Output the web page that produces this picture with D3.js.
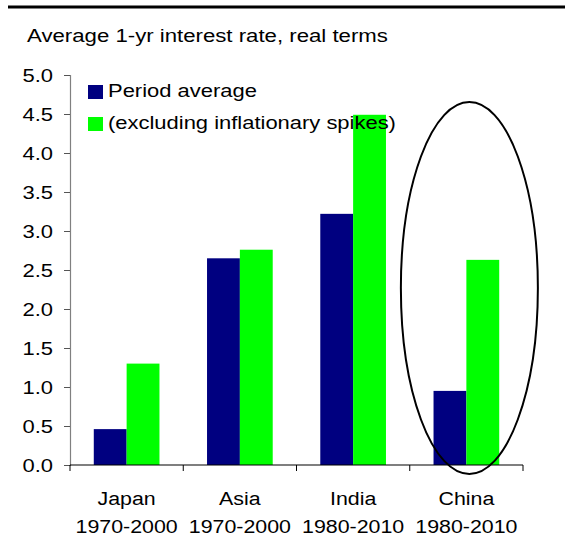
<!DOCTYPE html>
<html><head><meta charset="utf-8">
<script src="https://cdn.jsdelivr.net/npm/d3@7"></script>
<style>body{margin:0;background:#fff}svg{display:block}text{font-family:"Liberation Sans",Arial,sans-serif;fill:#000}</style>
</head><body><svg id="c" width="565" height="555"></svg>
<script>
const categories = ["Japan", "Asia", "India", "China"];
const periods = ["1970-2000", "1970-2000", "1980-2010", "1980-2010"];
const seriesNames = ["Period average", "(excluding inflationary spikes)"];
const periodAverage = [0.46, 2.65, 3.22, 0.95];
const exclSpikes = [1.30, 2.76, 4.49, 2.63];
const yTicks = [0, 0.5, 1, 1.5, 2, 2.5, 3, 3.5, 4, 4.5, 5];
const colors = ["#000080", "#00ff00"];
const title = "Average 1-yr interest rate, real terms";

(function () {
const svg = d3.select("#c");
const mLeft = 70, mRight = 523, mTop = 75, mBottom = 465;
const SX = 1.2, FS = 18.3;

function stext(parent, x, y, str, anchor, fs) {
  return parent.append("text")
    .attr("transform", `translate(${x},${y}) scale(${SX},1)`)
    .attr("text-anchor", anchor || "start")
    .attr("font-size", fs || FS)
    .text(str);
}

svg.append("line").attr("x1", 8).attr("x2", 565).attr("y1", 7).attr("y2", 7)
  .attr("stroke", "#000").attr("stroke-width", 3);
stext(svg, 27, 42, title, "start", 18.5);

const y = d3.scaleLinear().domain([0, 5]).range([mBottom, mTop]);
const x0 = d3.scaleBand().domain(categories).range([mLeft, mRight]).padding(0);
const bw = x0.bandwidth();
const x1 = d3.scaleBand().domain([0, 1]).range([bw * 0.21, bw * 0.79]).padding(0);

const series = [periodAverage, exclSpikes];
const g = svg.append("g");
series.forEach((vals, si) => {
  g.selectAll(null).data(categories).enter().append("rect")
    .attr("x", (c) => x0(c) + x1(si))
    .attr("width", x1.bandwidth())
    .attr("y", (c, i) => y(vals[i]))
    .attr("height", (c, i) => mBottom - y(vals[i]))
    .attr("fill", colors[si]);
});

const ya = svg.append("g").attr("transform", `translate(${mLeft},0)`)
  .call(d3.axisLeft(y).tickValues(yTicks).tickFormat(d3.format(".1f")).tickSize(6).tickPadding(10));
ya.select(".domain").attr("stroke", "#808080").attr("stroke-width", 1.2);
ya.selectAll(".tick line").attr("stroke", "#555");
ya.selectAll(".tick text")
  .attr("x", 0).attr("dy", "0.35em")
  .attr("transform", `translate(-17,0) scale(${SX},1)`)
  .attr("font-size", FS).attr("font-family", "Liberation Sans, Arial, sans-serif").attr("fill", "#000");

const xa = svg.append("g").attr("transform", `translate(0,${mBottom})`);
xa.append("line").attr("x1", mLeft).attr("x2", mRight).attr("y1", 0).attr("y2", 0).attr("stroke", "#000").attr("stroke-width", 1.2);
const xt = [...categories.map(c => x0(c)), mRight];
xa.selectAll(null).data(xt).enter().append("line")
  .attr("x1", d => d).attr("x2", d => d).attr("y1", 0).attr("y2", 6).attr("stroke", "#000");
categories.forEach((c, i) => {
  const cx = x0(c) + bw / 2;
  stext(xa, cx, 40, c, "middle", 17.8);
  stext(xa, cx, 68, periods[i], "middle", 17.8);
});

const chinaC = x0("China") + bw / 2;
svg.append("ellipse").attr("cx", chinaC + 3).attr("cy", 288).attr("rx", 68.5).attr("ry", 186)
  .attr("fill", "none").attr("stroke", "#000").attr("stroke-width", 2);

const leg = svg.append("g");
seriesNames.forEach((n, i) => {
  leg.append("rect").attr("x", 88).attr("y", 85 + i * 32).attr("width", 15).attr("height", 14).attr("fill", colors[i]);
  stext(leg, 108, 97 + i * 31.5, n, "start");
});
})();
</script></body></html>
